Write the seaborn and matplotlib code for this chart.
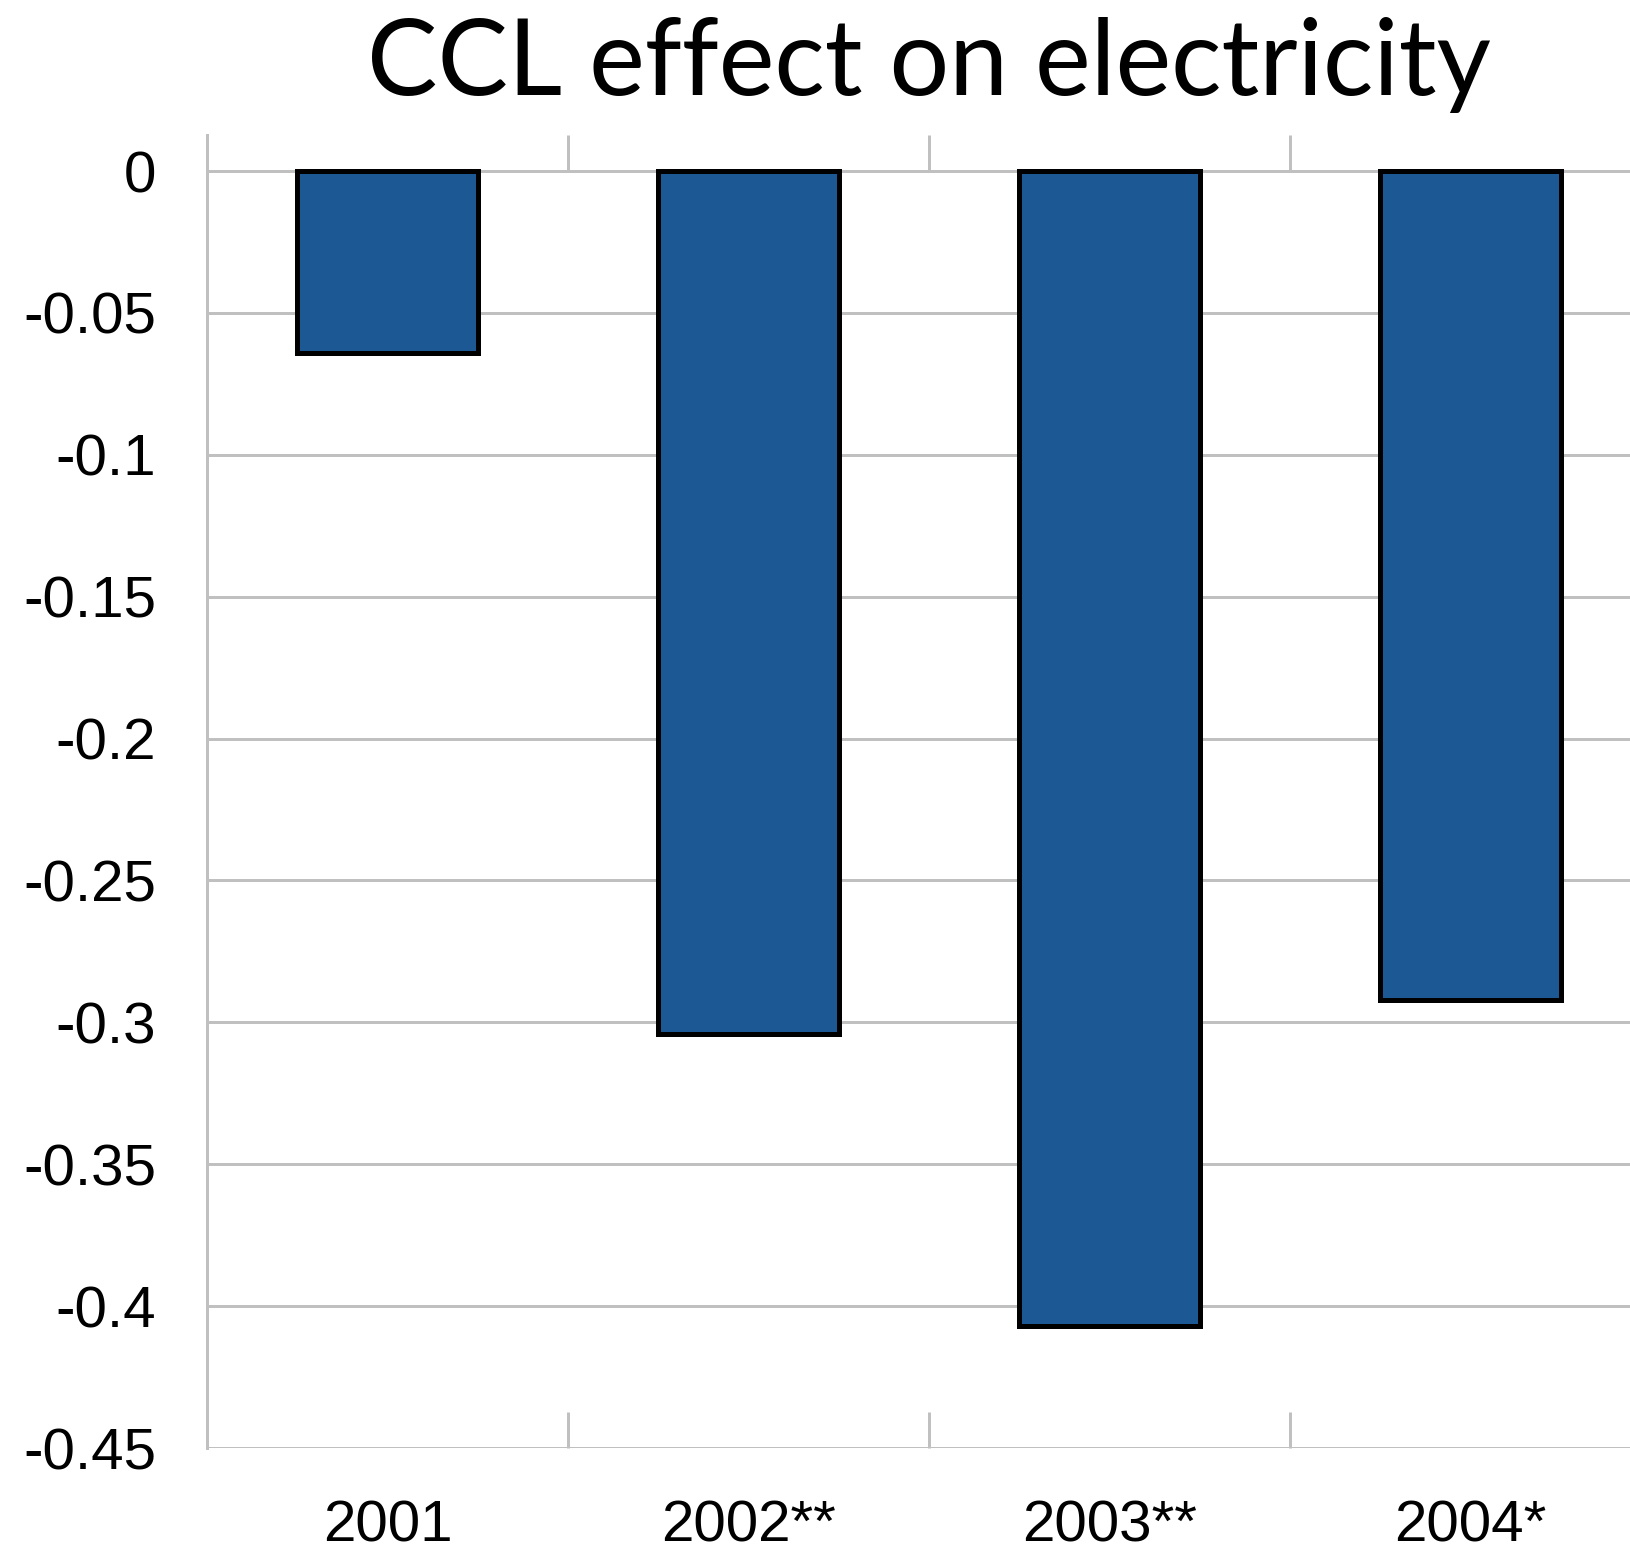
import matplotlib
matplotlib.use("Agg")
import matplotlib.pyplot as plt
import seaborn as sns
import pandas as pd

# Data
years = ["2001", "2002**", "2003**", "2004*"]
effects = [-0.064, -0.304, -0.407, -0.292]
y_ticks = [0, -0.05, -0.1, -0.15, -0.2, -0.25, -0.3, -0.35, -0.4, -0.45]
y_tick_labels = ["0", "-0.05", "-0.1", "-0.15", "-0.2", "-0.25", "-0.3", "-0.35", "-0.4", "-0.45"]
title = "CCL effect on electricity"

sns.set_style("white")
plt.rcParams["font.family"] = ["Liberation Sans", "DejaVu Sans"]
plt.rcParams["axes.unicode_minus"] = False

grid_grey = "#c0c0c0"
bar_blue = "#1b5894"
lw_grid = 2.16

df = pd.DataFrame({"year": years, "effect": effects})

fig = plt.figure(figsize=(16.31, 15.57), dpi=100)
ax = fig.add_axes([0.12692, 0.0700, 0.88535, 0.84329])

sns.barplot(data=df, x="year", y="effect", color=bar_blue, saturation=1,
            edgecolor="black", linewidth=3.6, width=0.5, ax=ax, zorder=3)

ax.set_xlim(-0.5, 3.5)
ax.set_ylim(-0.45, 0.0127)

# horizontal grid with ticks sticking out to the left
ax.set_yticks(y_ticks)
ax.set_yticklabels(y_tick_labels)
ax.yaxis.grid(True, color=grid_grey, linewidth=lw_grid, zorder=0)
ax.xaxis.grid(False)
ax.set_axisbelow(True)
ax.tick_params(axis="y", which="major", direction="out", length=26.6,
               width=lw_grid, color=grid_grey, labelsize=42, pad=10,
               labelcolor="black")

# category separators drawn as inward ticks on top and bottom
ax.set_xticks([-0.5, 0.5, 1.5, 2.5], minor=True)
ax.tick_params(axis="x", which="minor", direction="in", length=26,
               width=lw_grid, color=grid_grey, top=True, bottom=True)
ax.tick_params(axis="x", which="major", length=0, labelsize=42, pad=37,
               labelcolor="black")

for side in ["top", "right", "bottom"]:
    ax.spines[side].set_visible(False)
ax.spines["left"].set_color(grid_grey)
ax.spines["left"].set_linewidth(lw_grid)

ax.set_xlabel("")
ax.set_ylabel("")
ax.set_title(title, fontsize=76, family=["Lato", "DejaVu Sans"], color="black",
             pad=29)

fig.savefig("out.png", dpi=100)
